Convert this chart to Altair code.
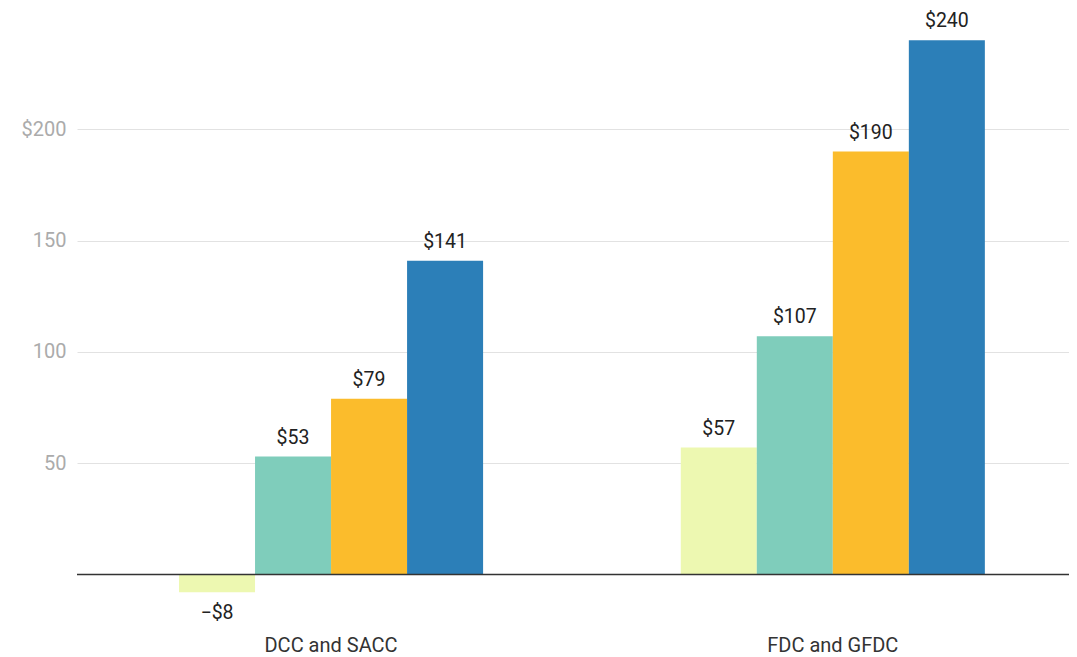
import altair as alt
import pandas as pd

categories = ["DCC and SACC", "FDC and GFDC"]
series = ["Series 1", "Series 2", "Series 3", "Series 4"]
values_dcc = [-8, 53, 79, 141]
values_fdc = [57, 107, 190, 240]
colors = ["#edf8b1", "#7fcdbb", "#fbbc2c", "#2c7fb8"]
y_ticks = [50, 100, 150, 200]

rows = []
for cat, vals in zip(categories, [values_dcc, values_fdc]):
    for s, v in zip(series, vals):
        lab = ("\u2212$" + str(abs(v))) if v < 0 else ("$" + str(v))
        rows.append({"cat": cat, "series": s, "value": v, "label": lab})
df = pd.DataFrame(rows)

xscale = alt.Scale(paddingInner=0.394, paddingOuter=0.1855, align=0.548)
xoff = alt.XOffset("series:N", scale=alt.Scale(paddingInner=0, paddingOuter=0), sort=series)
yscale = alt.Scale(domain=[-20, 250], nice=False, zero=False)

base = alt.Chart(df).encode(
    x=alt.X("cat:N", scale=xscale, sort=categories,
            axis=alt.Axis(title=None, domain=False, ticks=False, labelAngle=0,
                          labelFontSize=20, labelColor="#333333", labelPadding=16,
                          labelFont="Roboto")),
    xOffset=xoff,
)

bars = base.mark_bar().encode(
    y=alt.Y("value:Q", scale=yscale,
            axis=alt.Axis(title=None, values=y_ticks, domain=False, ticks=False,
                          grid=True, gridColor="#e2e2e2", gridWidth=1,
                          labelFontSize=20, labelColor="#ababab", labelPadding=11,
                          labelFont="Roboto",
                          labelExpr="datum.value == 200 ? '$200' : datum.label")),
    color=alt.Color("series:N", scale=alt.Scale(domain=series, range=colors), legend=None),
)

pos_text = base.transform_filter("datum.value >= 0").mark_text(
    baseline="bottom", dy=-9, fontSize=19.5, font="Roboto", color="#222222"
).encode(y=alt.Y("value:Q", scale=yscale), text="label:N")

neg_text = base.transform_filter("datum.value < 0").mark_text(
    baseline="top", dy=12, fontSize=19.5, font="Roboto", color="#222222"
).encode(y=alt.Y("value:Q", scale=yscale), text="label:N")

zero_df = pd.DataFrame({"v": [0]})
zero = alt.Chart(zero_df).mark_rule(color="#333333", strokeWidth=1.5).encode(
    y=alt.Y("v:Q", scale=yscale)
)

chart = alt.layer(bars, zero, pos_text, neg_text).properties(
    width=992, height=601,
    autosize=alt.AutoSizeParams(type="none"),
    padding={"left": 69, "top": 10, "right": 0, "bottom": 38},
).configure(font="Roboto").configure_view(stroke=None)

chart.save("out.html", embed_options={"renderer": "svg", "actions": False})
